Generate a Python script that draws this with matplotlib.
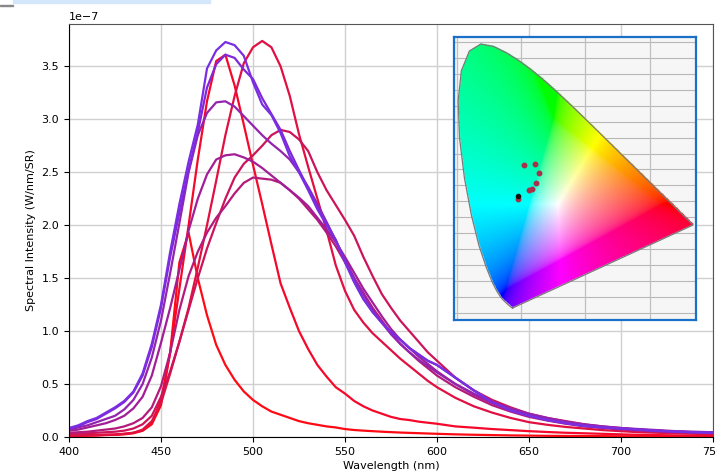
import numpy as np
import matplotlib
matplotlib.use("Agg")
import matplotlib.pyplot as plt
from matplotlib.path import Path
from matplotlib.patches import Rectangle

# wavelength grid (nm)
wl = [400, 405, 410, 415, 420, 425, 430, 435, 440, 445, 450, 455, 460, 465, 470,
      475, 480, 485, 490, 495, 500, 505, 510, 515, 520, 525, 530, 535, 540, 545,
      550, 555, 560, 565, 570, 575, 580, 585, 590, 595, 600, 610, 620, 630, 640,
      650, 660, 670, 680, 690, 700, 710, 720, 730, 740, 750]

# spectra, units of 1e-7 W/nm/SR
spec_a = [0.01, 0.01, 0.012, 0.015, 0.018, 0.02, 0.025, 0.035, 0.06, 0.12, 0.3, 0.8, 1.65, 1.93, 1.5,
          1.15, 0.87, 0.68, 0.54, 0.43, 0.35, 0.29, 0.24, 0.21, 0.18, 0.15, 0.13, 0.115, 0.1, 0.09,
          0.075, 0.066, 0.06, 0.055, 0.05, 0.046, 0.042, 0.039, 0.036, 0.033, 0.03, 0.025, 0.021, 0.018, 0.015,
          0.013, 0.011, 0.01, 0.009, 0.008, 0.007, 0.006, 0.006, 0.005, 0.005, 0.005]
spec_b = [0.01, 0.01, 0.015, 0.015, 0.02, 0.02, 0.03, 0.04, 0.06, 0.13, 0.35, 0.8, 1.4, 2.0, 2.62,
          3.17, 3.55, 3.61, 3.32, 2.95, 2.57, 2.2, 1.82, 1.45, 1.22, 1.0, 0.83, 0.68, 0.57, 0.47,
          0.41, 0.34, 0.29, 0.25, 0.22, 0.19, 0.17, 0.16, 0.145, 0.135, 0.125, 0.1, 0.088, 0.075, 0.065,
          0.055, 0.047, 0.04, 0.035, 0.03, 0.025, 0.02, 0.018, 0.015, 0.013, 0.012]
spec_c = [0.015, 0.015, 0.018, 0.02, 0.022, 0.025, 0.03, 0.04, 0.07, 0.15, 0.32, 0.6, 0.9, 1.22, 1.6,
          2.0, 2.42, 2.85, 3.22, 3.53, 3.68, 3.74, 3.68, 3.5, 3.22, 2.86, 2.55, 2.25, 1.95, 1.62,
          1.38, 1.2, 1.08, 0.98, 0.9, 0.82, 0.74, 0.67, 0.6, 0.53, 0.47, 0.37, 0.29, 0.23, 0.18,
          0.14, 0.115, 0.095, 0.08, 0.065, 0.055, 0.045, 0.04, 0.035, 0.03, 0.028]
spec_d = [0.03, 0.03, 0.035, 0.04, 0.045, 0.05, 0.06, 0.08, 0.12, 0.2, 0.38, 0.62, 0.9, 1.2, 1.5,
          1.78, 2.02, 2.25, 2.45, 2.58, 2.66, 2.75, 2.85, 2.9, 2.88, 2.81, 2.7, 2.5, 2.33, 2.19,
          2.05, 1.9, 1.7, 1.52, 1.35, 1.22, 1.1, 1.0, 0.9, 0.8, 0.72, 0.56, 0.44, 0.35, 0.28,
          0.22, 0.18, 0.15, 0.12, 0.1, 0.085, 0.07, 0.06, 0.05, 0.045, 0.04]
spec_e = [0.04, 0.045, 0.05, 0.06, 0.07, 0.08, 0.1, 0.13, 0.18, 0.28, 0.48, 0.8, 1.2, 1.52, 1.75,
          1.93, 2.07, 2.18, 2.3, 2.4, 2.45, 2.44, 2.43, 2.4, 2.33, 2.25, 2.15, 2.05, 1.93, 1.8,
          1.65, 1.5, 1.36, 1.22, 1.1, 0.98, 0.88, 0.8, 0.72, 0.65, 0.58, 0.47, 0.38, 0.3, 0.24,
          0.19, 0.155, 0.125, 0.1, 0.085, 0.07, 0.06, 0.05, 0.045, 0.04, 0.035]
spec_f = [0.06, 0.07, 0.09, 0.11, 0.13, 0.16, 0.2, 0.27, 0.38, 0.58, 0.89, 1.22, 1.58, 1.95, 2.25,
          2.48, 2.62, 2.66, 2.67, 2.64, 2.6, 2.54, 2.47, 2.4, 2.33, 2.26, 2.18, 2.07, 1.96, 1.84,
          1.7, 1.55, 1.4, 1.27, 1.14, 1.02, 0.92, 0.84, 0.76, 0.69, 0.62, 0.5, 0.4, 0.32, 0.26,
          0.21, 0.17, 0.14, 0.115, 0.095, 0.08, 0.07, 0.06, 0.05, 0.045, 0.04]
spec_h = [0.07, 0.09, 0.11, 0.14, 0.17, 0.2, 0.26, 0.35, 0.5, 0.75, 1.1, 1.55, 2.02, 2.5, 2.85,
          3.06, 3.16, 3.17, 3.12, 3.03, 2.94, 2.85, 2.77, 2.7, 2.62, 2.5, 2.36, 2.2, 2.03, 1.85,
          1.68, 1.5, 1.35, 1.2, 1.08, 0.97, 0.88, 0.8, 0.73, 0.67, 0.61, 0.5, 0.41, 0.33, 0.27,
          0.22, 0.18, 0.145, 0.12, 0.1, 0.085, 0.075, 0.065, 0.055, 0.05, 0.045]
spec_g2 = [0.08, 0.1, 0.14, 0.17, 0.22, 0.27, 0.33, 0.42, 0.58, 0.85, 1.22, 1.7, 2.12, 2.52, 2.88,
           3.3, 3.52, 3.61, 3.58, 3.47, 3.38, 3.2, 3.05, 2.9, 2.7, 2.52, 2.35, 2.17, 2.02, 1.86,
           1.66, 1.47, 1.31, 1.18, 1.08, 0.99, 0.92, 0.84, 0.78, 0.72, 0.68, 0.56, 0.44, 0.33, 0.25,
           0.2, 0.16, 0.13, 0.105, 0.09, 0.08, 0.068, 0.058, 0.05, 0.045, 0.04]
spec_g1 = [0.085, 0.11, 0.15, 0.18, 0.23, 0.28, 0.34, 0.43, 0.6, 0.88, 1.25, 1.75, 2.2, 2.6, 2.95,
           3.48, 3.65, 3.73, 3.7, 3.6, 3.35, 3.14, 3.04, 2.87, 2.65, 2.5, 2.33, 2.15, 2.0, 1.86,
           1.65, 1.46, 1.3, 1.18, 1.08, 0.99, 0.92, 0.84, 0.78, 0.72, 0.68, 0.56, 0.44, 0.33, 0.25,
           0.2, 0.16, 0.13, 0.105, 0.09, 0.08, 0.068, 0.058, 0.05, 0.045, 0.04]

spectra = [spec_a, spec_b, spec_c, spec_d, spec_e, spec_f, spec_h, spec_g2, spec_g1]
colors = ['#ff0a14', '#f5082a', '#e01042', '#cc145a', '#b41a7c', '#a21e96', '#9424ae', '#8028d8', '#7a2ee2']
scale = 1e-7

# CIE 1931 spectral locus (x, y)
locus_x = [0.1741, 0.1733, 0.1714, 0.1644, 0.1566, 0.1440, 0.1355, 0.1241, 0.1096, 0.0913, 0.0687,
           0.0454, 0.0235, 0.0082, 0.0039, 0.0139, 0.0389, 0.0743, 0.1142, 0.1547, 0.1929, 0.2296,
           0.2658, 0.3016, 0.3373, 0.3731, 0.4087, 0.4441, 0.4788, 0.5125, 0.5448, 0.5752, 0.6029,
           0.6270, 0.6658, 0.6915, 0.7079, 0.7190, 0.7260, 0.7300, 0.7334, 0.7347]
locus_y = [0.0050, 0.0048, 0.0051, 0.0109, 0.0177, 0.0297, 0.0399, 0.0578, 0.0868, 0.1327, 0.2007,
           0.2950, 0.4127, 0.5384, 0.6548, 0.7502, 0.8120, 0.8338, 0.8262, 0.8059, 0.7816, 0.7543,
           0.7243, 0.6923, 0.6589, 0.6245, 0.5896, 0.5547, 0.5202, 0.4866, 0.4544, 0.4242, 0.3965,
           0.3725, 0.3340, 0.3083, 0.2920, 0.2809, 0.2740, 0.2700, 0.2666, 0.2653]

# chromaticity points of the samples
pt_x = [0.209, 0.244, 0.256, 0.247, 0.234, 0.225, 0.191]
pt_y = [0.455, 0.458, 0.430, 0.396, 0.377, 0.374, 0.346]
ref_x, ref_y = 0.191, 0.358


def chroma_image(n=400):
    xs = np.linspace(0, 0.75, n)
    ys = np.linspace(0, 0.85, n)
    X, Y = np.meshgrid(xs, ys)
    Yc = np.clip(Y, 1e-4, None)
    XYZ = np.stack([X / Yc, np.ones_like(X), (1 - X - Y) / Yc], axis=-1)
    M = np.array([[3.2406, -1.5372, -0.4986],
                  [-0.9689, 1.8758, 0.0415],
                  [0.0557, -0.2040, 1.0570]])
    rgb = XYZ @ M.T
    # pull out-of-gamut colours part way towards white
    neg = np.clip(-rgb.min(axis=-1, keepdims=True), 0, None)
    rgb = np.clip(rgb + 0.35 * neg, 0, None)
    rgb = rgb / np.max(rgb, axis=-1, keepdims=True).clip(1e-6)
    rgb = np.where(rgb <= 0.0031308, 12.92 * rgb, 1.055 * rgb ** (1 / 2.4) - 0.055)
    path = Path(np.column_stack([locus_x, locus_y]))
    inside = path.contains_points(np.column_stack([X.ravel(), Y.ravel()])).reshape(X.shape)
    rgba = np.dstack([np.clip(rgb, 0, 1), inside.astype(float)])
    return rgba


fig = plt.figure(figsize=(7.17, 4.72), dpi=100)
fig.patches.append(Rectangle((13 / 717, 469 / 472), 197 / 717, 3 / 472,
                             transform=fig.transFigure, color='#d4e6fa', zorder=0))
fig.patches.append(Rectangle((0, 466 / 472), 13 / 717, 1 / 472,
                             transform=fig.transFigure, color='#888888', zorder=0))

ax = fig.add_axes([69 / 717, 35 / 472, 644 / 717, 413 / 472])
for s, c in zip(spectra, colors):
    ax.plot(wl, np.array(s) * scale, color=c, lw=1.6)

ax.set_xlim(400, 750)
ax.set_ylim(0, 3.9e-7)
ax.set_yticks(np.arange(0, 3.6e-7, 0.5e-7))
ax.grid(True, color='#d0d0d0', lw=1.0)
ax.tick_params(labelsize=8)
ax.yaxis.get_offset_text().set_fontsize(8)
ax.set_xlabel('Wavelength (nm)', fontsize=8, labelpad=3)
ax.set_ylabel('Spectral Intensity (W/nm/SR)', fontsize=8)
for sp in ['top', 'right']:
    ax.spines[sp].set_color('#555555')

# inset chromaticity diagram
ins = fig.add_axes([454 / 717, 152 / 472, 242 / 717, 283 / 472])
ins.set_facecolor('#f6f6f6')
for gy in np.arange(-0.01, 0.85, 0.05):
    ins.axhline(gy, color='#b8b8b8', lw=0.8, zorder=0)
for gx in [0.0, 0.2, 0.4, 0.6]:
    ins.axvline(gx, color='#c0c0c0', lw=0.9, zorder=0)
ins.imshow(chroma_image(), extent=[0, 0.75, 0, 0.85], origin='lower',
           interpolation='bilinear', zorder=1)
ins.plot(locus_x + [locus_x[0]], locus_y + [locus_y[0]], color='#7a7a7a', lw=0.9, zorder=2)
ins.plot(pt_x, pt_y, 'o', color='#a83048', ms=3.2, zorder=3)
ins.plot([ref_x], [ref_y], 'o', color='#111111', ms=3.0, zorder=3)
ins.set_xlim(-0.009, 0.744)
ins.set_ylim(-0.033, 0.856)
ins.set_aspect('auto')
ins.set_xticks([])
ins.set_yticks([])
for sp in ins.spines.values():
    sp.set_color('#1a6fc8')
    sp.set_linewidth(1.6)

fig.savefig('out.png', dpi=100)
